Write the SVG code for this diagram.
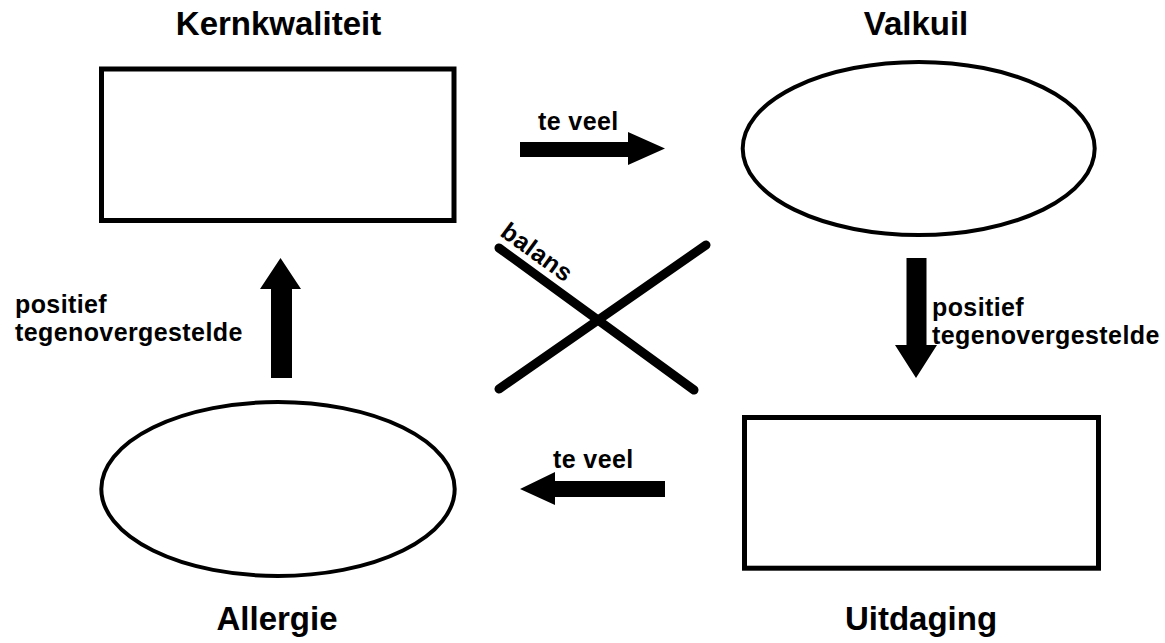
<svg xmlns="http://www.w3.org/2000/svg" width="1165" height="643" viewBox="0 0 1165 643">
<style>
.title{font-family:"Liberation Sans",Arial,sans-serif;font-weight:bold;font-size:33px;fill:#000;text-anchor:middle}
.lbl{font-family:"Liberation Sans",Arial,sans-serif;font-weight:bold;font-size:25px;fill:#000;letter-spacing:0.4px}
.box{fill:#fff;stroke:#000;stroke-width:5}
.ell{fill:#fff;stroke:#000;stroke-width:4}
.arr{fill:#000}
.x{stroke:#000;stroke-width:9;stroke-linecap:round}
</style>
<rect width="1165" height="643" fill="#fff"/>
<g id="kernkwaliteit">
<rect class="box" x="101.5" y="69" width="352.5" height="151.5"/>
<text class="title" x="278.5" y="35">Kernkwaliteit</text>
</g>
<g id="valkuil">
<ellipse class="ell" cx="918.7" cy="148.5" rx="176" ry="86.5"/>
<text class="title" x="916" y="35">Valkuil</text>
</g>
<g id="allergie">
<ellipse class="ell" cx="278" cy="489" rx="176.7" ry="87"/>
<text class="title" x="277" y="630">Allergie</text>
</g>
<g id="uitdaging">
<rect class="box" x="744.5" y="417.5" width="354" height="150.7"/>
<text class="title" x="921" y="630">Uitdaging</text>
</g>
<g id="connectors">
<polygon class="arr" points="520,142 628,142 628,132 665,148.5 628,165 628,157 520,157"/>
<text class="lbl" x="538" y="130">te veel</text>
<polygon class="arr" points="906.5,258 926.5,258 926.5,345 937,345 916,378 895,345 906.5,345"/>
<text class="lbl" x="932" y="316">positief</text>
<text class="lbl" x="932" y="344">tegenovergestelde</text>
<polygon class="arr" points="665,481 555,481 555,472 520,489 555,505 555,497 665,497"/>
<text class="lbl" x="553" y="468">te veel</text>
<polygon class="arr" points="271,378 271,289 260,289 280.5,258 301,289 292,289 292,378"/>
<text class="lbl" x="15" y="313">positief</text>
<text class="lbl" x="15" y="341">tegenovergestelde</text>
<line class="x" x1="499" y1="248" x2="694" y2="390"/>
<line class="x" x1="499" y1="389" x2="706" y2="245"/>
<text class="lbl" font-size="25" transform="translate(499,235) rotate(36)">balans</text>
</g>
</svg>
